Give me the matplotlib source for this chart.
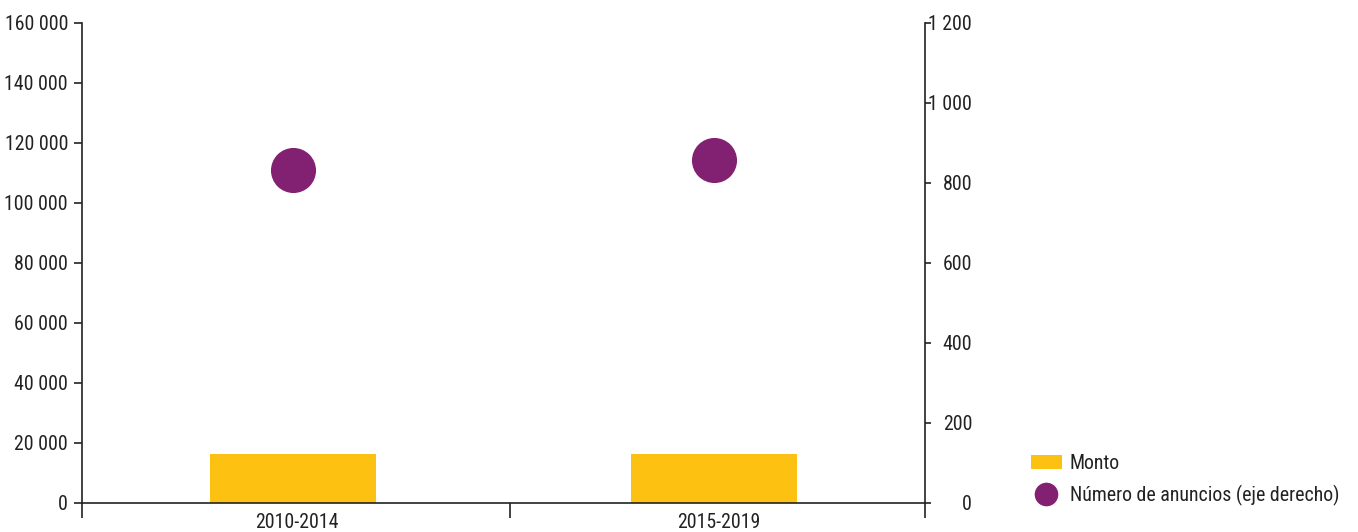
import matplotlib
matplotlib.use("Agg")
import matplotlib.pyplot as plt
from matplotlib.lines import Line2D
from matplotlib.patches import Patch
from matplotlib.ticker import FuncFormatter

plt.rcParams['font.family'] = ['Roboto Condensed', 'DejaVu Sans']

categories = ["2010-2014", "2015-2019"]
monto = [16500, 16500]
anuncios = [832, 858]
left_ticks = [0, 20000, 40000, 60000, 80000, 100000, 120000, 140000, 160000]
right_ticks = [0, 200, 400, 600, 800, 1000, 1200]

bar_color = "#FCC111"
dot_color = "#822171"
txt_color = "#222222"
FS = 14.3

W, H = 1358, 532
fig = plt.figure(figsize=(W / 100, H / 100), dpi=100)
ax = fig.add_axes([82 / W, 29 / H, (925 - 82) / W, (503 - 23) / H])
ax2 = ax.twinx()

x = list(range(len(categories)))
ax.bar(x, monto, width=0.395, color=bar_color, zorder=2)
ax2.scatter(x, anuncios, s=45 ** 2 * 0.52, color=dot_color, zorder=3, linewidths=0)

fmt = FuncFormatter(lambda v, p: f"{int(v):,}".replace(",", " "))

ax.set_xlim(-0.5, 1.5)
ax.set_ylim(0, 160000)
ax2.set_ylim(0, 1200)
ax.set_yticks(left_ticks)
ax.yaxis.set_major_formatter(fmt)
ax2.set_yticks(right_ticks)
ax2.yaxis.set_major_formatter(fmt)

ax.set_xticks([-0.5, 0.515, 1.5])
ax.set_xticklabels([])
ax.set_xticks([0.01, 1.01], minor=True)
ax.set_xticklabels(categories, minor=True)
ax.tick_params(axis='x', which='major', length=11, width=1.2, color='#222222', direction='out')
ax.tick_params(axis='x', which='minor', length=0, pad=7, labelsize=FS, labelcolor=txt_color)
ax.tick_params(axis='y', length=6, width=1.2, pad=4, labelsize=FS, labelcolor=txt_color, color='#222222')
ax2.tick_params(axis='y', length=4, width=1.2, labelsize=FS, labelcolor=txt_color, color='#222222')
for t in ax2.get_yticklabels():
    t.set_horizontalalignment('right')
ax2.yaxis.set_tick_params(pad=30)

for a in (ax, ax2):
    a.spines['top'].set_visible(False)
    for s in ('left', 'right', 'bottom'):
        a.spines[s].set_color('#222222')
        a.spines[s].set_linewidth(1.2)
ax.spines['right'].set_visible(False)
ax2.spines['left'].set_visible(False)
ax2.spines['bottom'].set_visible(False)

handles = [
    Patch(facecolor=bar_color, edgecolor='none', label="Monto"),
    Line2D([0], [0], marker='o', linestyle='none', markersize=17,
           markerfacecolor=dot_color, markeredgewidth=0,
           label="Número de anuncios (eje derecho)"),
]
fig.legend(handles=handles, loc='upper left', bbox_to_anchor=(1031 / W, 1 - 454 / H),
           frameon=False, fontsize=FS, labelcolor=txt_color, handlelength=1.56,
           handleheight=0.75, handletextpad=0.4, labelspacing=0.6, borderaxespad=0,
           borderpad=0)

fig.savefig("out.png", dpi=100)
